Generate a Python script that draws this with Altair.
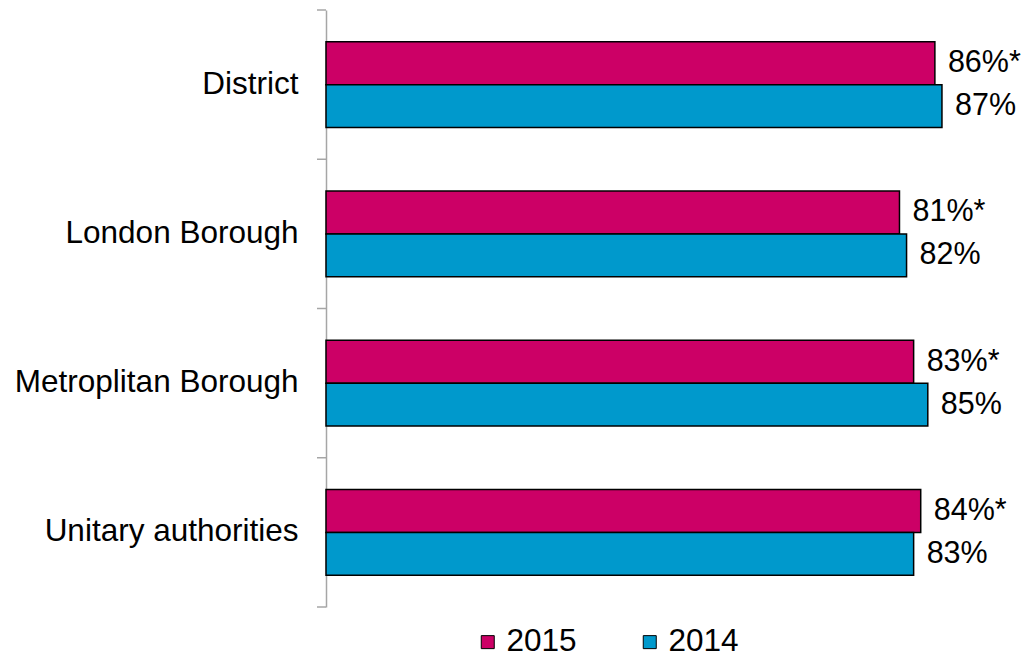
import altair as alt
import pandas as pd

categories = ["District", "London Borough", "Metroplitan Borough", "Unitary authorities"]
years = ["2015", "2014"]
values_2015 = [86, 81, 83, 84]
values_2014 = [87, 82, 85, 83]
labels_2015 = ["86%*", "81%*", "83%*", "84%*"]
labels_2014 = ["87%", "82%", "85%", "83%"]
colors = ["#CC0066", "#0099CC"]

rows = []
for i, c in enumerate(categories):
    rows.append({"Category": c, "Year": "2015", "Value": values_2015[i], "Label": labels_2015[i]})
    rows.append({"Category": c, "Year": "2014", "Value": values_2014[i], "Label": labels_2014[i]})
df = pd.DataFrame(rows)
cat_df = pd.DataFrame({"Category": categories})
last_df = pd.DataFrame({"Category": categories[-1:]})

FONT = "Liberation Sans"
AXIS_GRAY = "#A6A6A6"

y_enc = alt.Y(
    "Category:N",
    sort=categories,
    scale=alt.Scale(paddingInner=0, paddingOuter=0),
    axis=alt.Axis(
        title=None, ticks=False, domain=True, domainColor=AXIS_GRAY, domainWidth=1.5,
        labelFontSize=31.5, labelFont=FONT, labelColor="black", labelPadding=28,
        labelLimit=400,
    ),
)
yoff = alt.YOffset("Year:N", sort=years, scale=alt.Scale(paddingInner=0, paddingOuter=0.744))
x_enc = alt.X("Value:Q", scale=alt.Scale(domain=[0, 95], nice=False, zero=True), axis=None)

bars = alt.Chart(df).mark_bar(stroke="black", strokeWidth=1.5).encode(
    y=y_enc,
    yOffset=yoff,
    x=x_enc,
    color=alt.Color(
        "Year:N",
        sort=years,
        scale=alt.Scale(domain=years, range=colors),
        legend=alt.Legend(
            title=None, orient="none", legendX=146, legendY=616, direction="horizontal",
            symbolType="square", symbolSize=169, symbolStrokeColor="black",
            symbolStrokeWidth=1, labelFontSize=31.5, labelFont=FONT, labelColor="black",
            labelOffset=3, columnPadding=57, padding=0,
        ),
    ),
)

text = alt.Chart(df).mark_text(
    align="left", baseline="middle", dx=13, fontSize=30.5, font=FONT, color="black"
).encode(
    y=alt.Y("Category:N", sort=categories),
    yOffset=yoff,
    x=x_enc,
    text="Label:N",
)

ticks = alt.Chart(cat_df).mark_rule(color=AXIS_GRAY, strokeWidth=1.5).encode(
    y=alt.Y("Category:N", sort=categories, bandPosition=0),
    x=alt.value(-9),
    x2=alt.value(0),
)
end_tick = alt.Chart(last_df).mark_rule(color=AXIS_GRAY, strokeWidth=1.5).encode(
    y=alt.Y("Category:N", sort=categories, bandPosition=1),
    x=alt.value(-9),
    x2=alt.value(0),
)

plot_w = 672.6
chart = alt.layer(bars, text, ticks, end_tick).properties(
    width=plot_w,
    height=597,
    padding={"left": 318, "top": 2, "right": 1014 - 318 - plot_w, "bottom": 51},
    autosize=alt.AutoSizeParams(type="none"),
    background="white",
).configure_view(stroke="transparent", strokeWidth=0)

chart.save("out.html", embed_options={"renderer": "svg", "actions": False})
